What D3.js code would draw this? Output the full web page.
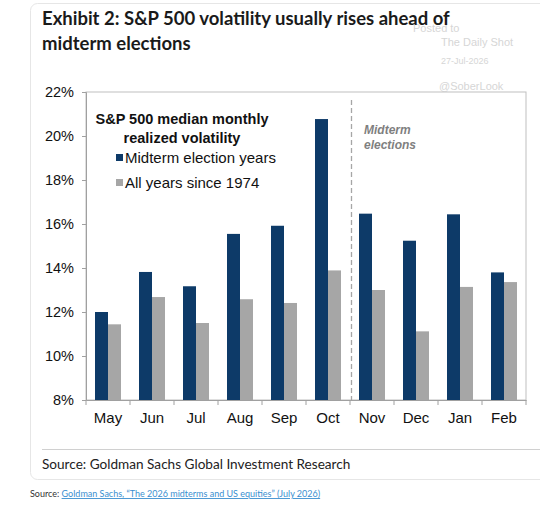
<!DOCTYPE html>
<html><head><meta charset="utf-8">
<script src="https://cdn.jsdelivr.net/npm/d3@7"></script>
<style>
body{margin:0;background:#fff;}
svg{display:block;}
</style></head>
<body>
<svg id="c" width="540" height="515"></svg>
<script>
const months = ["May","Jun","Jul","Aug","Sep","Oct","Nov","Dec","Jan","Feb"];
const midtermYears = [12.0,13.82,13.17,15.55,15.92,20.77,16.47,15.24,16.44,13.8];
const allYears = [11.44,12.68,11.5,12.58,12.41,13.89,13.0,11.12,13.14,13.36];
const yTicks = [8,10,12,14,16,18,20,22];
const seriesNames = ["Midterm election years","All years since 1974"];
const colors = ["#0D3A68","#A6A6A6"];

const svg = d3.select("#c");
// card
svg.append("rect").attr("x",30.5).attr("y",3.5).attr("width",540).attr("height",476)
  .attr("rx",7).attr("fill","#fff").attr("stroke","#e6e6e6");

// watermark (drawn beneath the title)
const wm = [["Posted to",32,413,11],["The Daily Shot",46,441,11],["27-Jul-2026",64,441,9],["@SoberLook",90,439,11]];
wm.forEach(w=>svg.append("text").attr("x",w[2]).attr("y",w[1]).attr("font-family","Arial, sans-serif")
  .attr("font-size", w[3]).attr("fill","#d6d6d6").text(w[0]));

const tf = "Lato, 'Open Sans', sans-serif";
svg.append("text").attr("x",42).attr("y",25).attr("font-family",tf).attr("font-weight","bold")
  .attr("font-size",18.5).attr("fill","#1a1a1a").text("Exhibit 2: S&P 500 volatility usually rises ahead of");
svg.append("text").attr("x",42).attr("y",50).attr("font-family",tf).attr("font-weight","bold")
  .attr("font-size",18.5).attr("fill","#1a1a1a").text("midterm elections");

const x0 = d3.scaleBand().domain(months).range([86,526]).paddingInner(0).paddingOuter(0);
const x1 = d3.scaleBand().domain([0,1]).range([0,26]);
const y = d3.scaleLinear().domain([8,22]).range([400,92]);

// plot border
svg.append("rect").attr("x",86).attr("y",92).attr("width",440).attr("height",308)
  .attr("fill","none").attr("stroke","#bfbfbf");

const af = "Arial, 'Liberation Sans', sans-serif";
// y axis
const ya = svg.append("g").attr("transform","translate(86,0)")
  .call(d3.axisLeft(y).tickValues(yTicks).tickFormat(d=>d+"%").tickSize(4).tickPadding(8));
ya.select(".domain").attr("stroke","#a0a0a0");
ya.selectAll(".tick line").attr("stroke","#a0a0a0");
ya.selectAll("text").attr("font-family",af).attr("font-size",14.5).attr("fill","#111");

// x axis
const xa = svg.append("g").attr("transform","translate(0,400)")
  .call(d3.axisBottom(x0).tickSize(0).tickPadding(12));
xa.select(".domain").attr("stroke","#a0a0a0");
xa.selectAll("text").attr("font-family",af).attr("font-size",15).attr("fill","#111");
// boundary ticks
svg.append("g").selectAll("line").data(d3.range(months.length+1)).join("line")
  .attr("x1",i=>86+i*x0.bandwidth()).attr("x2",i=>86+i*x0.bandwidth())
  .attr("y1",400).attr("y2",405).attr("stroke","#a0a0a0");

// bars
const data = months.map((m,i)=>({m, v:[midtermYears[i],allYears[i]]}));
const g = svg.append("g");
data.forEach(d=>{
  d.v.forEach((v,k)=>{
    g.append("rect").attr("x",x0(d.m)+(x0.bandwidth()-26)/2+x1(k)).attr("width",x1.bandwidth())
      .attr("y",y(v)).attr("height",y(8)-y(v)).attr("fill",colors[k]);
  });
});

// dashed divider
const xd = x0("Nov")+1.5;
svg.append("line").attr("x1",xd).attr("x2",xd).attr("y1",100).attr("y2",400)
  .attr("stroke","#a6a6a6").attr("stroke-width",1.3).attr("stroke-dasharray","5,3");
svg.append("text").attr("x",364).attr("y",134).attr("font-family",af).attr("font-style","italic")
  .attr("font-weight","bold").attr("font-size",12).attr("fill","#7f7f7f").text("Midterm");
svg.append("text").attr("x",364).attr("y",149).attr("font-family",af).attr("font-style","italic")
  .attr("font-weight","bold").attr("font-size",12).attr("fill","#7f7f7f").text("elections");

// legend
svg.append("text").attr("x",182).attr("y",124).attr("text-anchor","middle").attr("font-family",af)
  .attr("font-weight","bold").attr("font-size",14.5).attr("fill","#111").text("S&P 500 median monthly");
svg.append("text").attr("x",182).attr("y",143).attr("text-anchor","middle").attr("font-family",af)
  .attr("font-weight","bold").attr("font-size",14.5).attr("fill","#111").text("realized volatility");
seriesNames.forEach((s,k)=>{
  const yy = 163 + k*25;
  svg.append("rect").attr("x",116).attr("y",yy-9).attr("width",7).attr("height",7).attr("fill",colors[k]);
  svg.append("text").attr("x",125).attr("y",yy).attr("font-family",af).attr("font-size",15)
    .attr("fill","#111").text(s);
});

// separator & source
svg.append("line").attr("x1",42).attr("x2",540).attr("y1",449.5).attr("y2",449.5).attr("stroke","#d0d0d0");
svg.append("text").attr("x",42).attr("y",469).attr("font-family",tf).attr("font-size",13.6)
  .attr("fill","#222").text("Source: Goldman Sachs Global Investment Research");

const cap = svg.append("text").attr("x",30).attr("y",497).attr("font-family",tf).attr("font-size",9);
cap.append("tspan").attr("fill","#333").text("Source: ");
cap.append("tspan").attr("fill","#3a8fd0").attr("text-decoration","underline")
  .text("Goldman Sachs, \u201CThe 2026 midterms and US equities\u201D (July 2026)");
</script>
</body></html>
